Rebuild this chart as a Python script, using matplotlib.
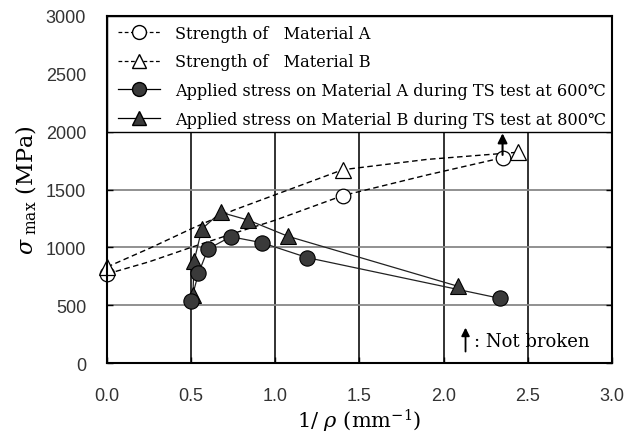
import matplotlib
matplotlib.use("Agg")
import matplotlib.pyplot as plt
from matplotlib.lines import Line2D
from matplotlib.patches import Rectangle

# ---- data ----
# strength points (open markers)
strA_x = [0.0, 1.40, 2.35]
strA_y = [770, 1447, 1775]
strB_x = [0.0, 1.40, 2.44]
strB_y = [830, 1671, 1822]
# dashed guide curves through strength data
curA_x = [0.0, 0.25, 0.50, 0.75, 1.00, 1.40, 1.90, 2.35]
curA_y = [770, 875, 1000, 1120, 1235, 1447, 1625, 1775]
curB_x = [0.0, 0.25, 0.50, 0.75, 1.00, 1.40, 1.90, 2.44]
curB_y = [830, 990, 1160, 1320, 1455, 1671, 1760, 1822]
# applied stress (filled markers)
appA_x = [0.50, 0.543, 0.60, 0.735, 0.92, 1.19, 2.335]
appA_y = [540, 775, 986, 1092, 1040, 911, 559]
appB_x = [0.51, 0.518, 0.563, 0.675, 0.84, 1.076, 2.086]
appB_y = [590, 885, 1158, 1303, 1235, 1095, 663]

labels = ["Strength of   Material A",
          "Strength of   Material B",
          "Applied stress on Material A during TS test at 600\u2103",
          "Applied stress on Material B during TS test at 800\u2103"]
xticks = [0.0, 0.5, 1.0, 1.5, 2.0, 2.5, 3.0]
yticks = [0, 500, 1000, 1500, 2000, 2500, 3000]

plt.rcParams["font.family"] = ["Liberation Sans", "DejaVu Sans"]
plt.rcParams["mathtext.fontset"] = "dejavuserif"
serif = ["DejaVu Serif"]

fig = plt.figure(figsize=(6.27, 4.39), dpi=100)
ax = fig.add_axes([0.1707, 0.1708, 0.8053, 0.7905])
ax.set_xlim(0, 3.0)
ax.set_ylim(0, 3000)

# grid (below legend box)
for xv in xticks[1:-1]:
    ax.plot([xv, xv], [0, 2000], color="#222222", lw=1.3, zorder=1)
for yv in yticks[1:4]:
    ax.plot([0, 3.0], [yv, yv], color="#888888", lw=1.3, zorder=1)

dark = "#3a3a3a"
ax.plot(curA_x, curA_y, ls=(0, (4, 2.5)), color="black", lw=1.0, zorder=2)
ax.plot(curB_x, curB_y, ls=(0, (4, 2.5)), color="black", lw=1.0, zorder=2)
ax.plot(appA_x, appA_y, color="#222222", lw=0.9, zorder=2)
ax.plot(appB_x, appB_y, color="#222222", lw=0.9, zorder=2)
ax.plot(appB_x, appB_y, ls="none", marker="^", ms=11, mfc=dark, mec="black", mew=0.8, zorder=3)
ax.plot(appA_x, appA_y, ls="none", marker="o", ms=11, mfc=dark, mec="black", mew=0.8, zorder=3)
ax.plot(strA_x, strA_y, ls="none", marker="o", ms=10.5, mfc="white", mec="black", mew=0.9, zorder=3,
        clip_on=False)
ax.plot(strB_x, strB_y, ls="none", marker="^", ms=11, mfc="white", mec="black", mew=0.9, zorder=3,
        clip_on=False)

# not-broken arrow on point
ax.annotate("", xy=(2.35, 2010), xytext=(2.35, 1775),
            arrowprops=dict(arrowstyle="-|>", color="black", lw=1.5, mutation_scale=14), zorder=5)

# legend box
ax.add_patch(Rectangle((0, 2 / 3), 1, 1 / 3, transform=ax.transAxes, facecolor="white",
                       edgecolor="black", lw=1.0, zorder=4))
handles = [
    Line2D([], [], ls=(0, (3, 2)), color="black", lw=0.9, marker="o", ms=10, mfc="white", mec="black"),
    Line2D([], [], ls=(0, (3, 2)), color="black", lw=0.9, marker="^", ms=10, mfc="white", mec="black"),
    Line2D([], [], ls="-", color="black", lw=0.9, marker="o", ms=10, mfc=dark, mec="black"),
    Line2D([], [], ls="-", color="black", lw=0.9, marker="^", ms=10, mfc=dark, mec="black"),
]
leg = ax.legend(handles, labels, loc="upper left", bbox_to_anchor=(0.005, 1.0), frameon=False,
                prop={"family": serif, "size": 11.6}, handlelength=2.6, handletextpad=0.9,
                labelspacing=0.72, borderaxespad=0.15)
leg.set_zorder(6)

# "Not broken" note
ax.annotate("", xy=(2.13, 330), xytext=(2.13, 75),
            arrowprops=dict(arrowstyle="-|>", color="black", lw=1.3, mutation_scale=12), zorder=5)
ax.text(2.18, 190, ": Not broken", fontfamily=serif, fontsize=13, va="center", ha="left", zorder=5)

ax.set_xticks(xticks)
ax.set_yticks(yticks)
ax.set_xticklabels([f"{v:.1f}" for v in xticks])
ax.set_yticklabels([str(v) for v in yticks])
ax.tick_params(direction="in", length=4, width=1, labelsize=13, colors="black",
               labelcolor="#333333", right=True, top=False)
ax.tick_params(axis="y", pad=15)
ax.tick_params(axis="x", pad=17)
for s in ax.spines.values():
    s.set_linewidth(1.5)
    s.set_zorder(7)

ax.set_ylabel(r"$\sigma_{\rm\ max}$ (MPa)", fontfamily=serif, fontsize=16, labelpad=5)
ax.set_xlabel(r"1/ $\rho$ (mm$^{-1}$)", fontfamily=serif, fontsize=15, labelpad=2)

fig.savefig("out.png", dpi=100)
